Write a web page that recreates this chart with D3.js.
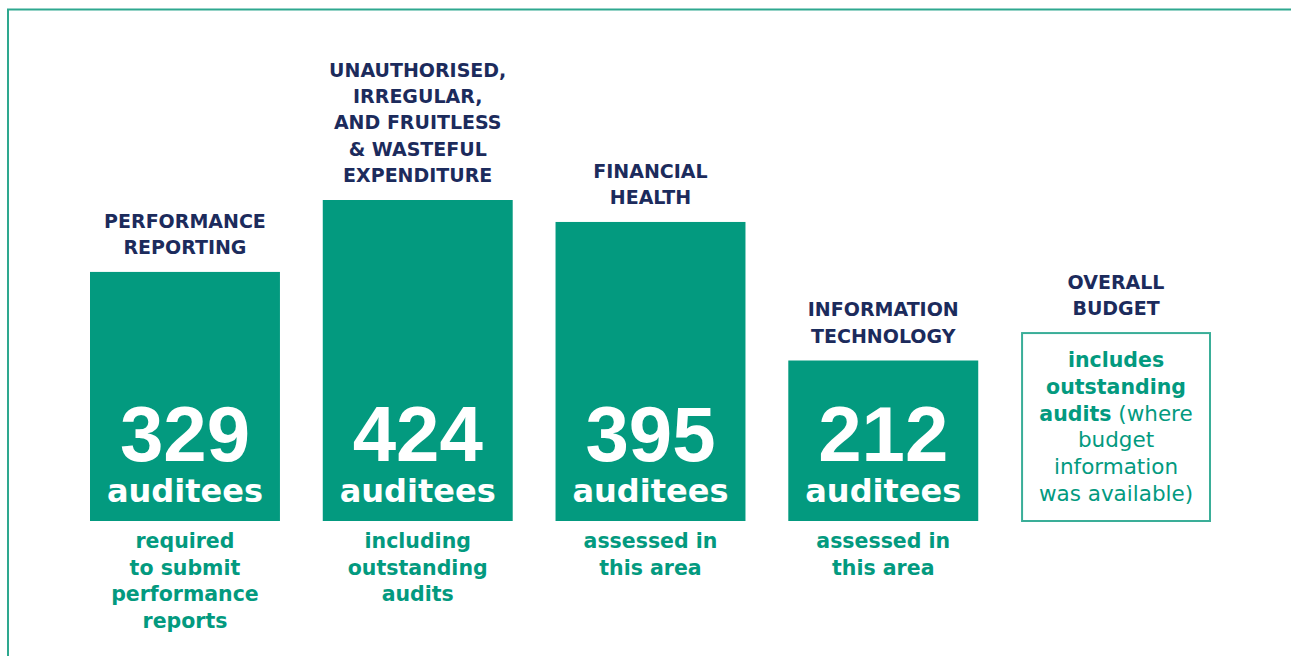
<!DOCTYPE html>
<html>
<head>
<meta charset="utf-8">
<script src="https://cdn.jsdelivr.net/npm/d3@7"></script>
<style>
  body { margin: 0; background: #fff; }
  text { font-family: "DejaVu Sans", sans-serif; }
  text.num { font-family: "Liberation Sans", Arial, sans-serif; }
</style>
</head>
<body>
<svg id="chart" width="1291" height="656"></svg>
<script>
// categories and what each one counts
const categories = ['performance', 'uifw', 'financial', 'it', 'budget']
const values = [329, 424, 395, 212, null]
const titles = [
    ['PERFORMANCE', 'REPORTING'],
    ['UNAUTHORISED,', 'IRREGULAR,', 'AND FRUITLESS', '& WASTEFUL', 'EXPENDITURE'],
    ['FINANCIAL', 'HEALTH'],
    ['INFORMATION', 'TECHNOLOGY'],
    ['OVERALL', 'BUDGET']
]
const notes = [
    ['required', 'to submit', 'performance', 'reports'],
    ['including', 'outstanding', 'audits'],
    ['assessed in', 'this area'],
    ['assessed in', 'this area'],
    []
]
// text inside the budget box: [words, bold?]
const budgetNote = [
    [['includes', 1]],
    [['outstanding', 1]],
    [['audits', 1], [' (where', 0]],
    [['budget', 0]],
    [['information', 0]],
    [['was available)', 0]]
]

const green = '#039a7f'
const navy = '#1c2b5c'
const base = 521

const svg = d3.select('#chart')

// frame
svg.append('path')
    .attr('d', 'M8,700 L8,9.5 L1300,9.5')
    .attr('fill', 'none')
    .attr('stroke', '#2ea88f')
    .attr('stroke-width', 2)

const x = d3.scaleBand()
    .domain(categories)
    .range([90, 1211])
    .paddingInner(0.184)
    .paddingOuter(0)

const y = d3.scaleLinear()
    .domain([0, 424])
    .range([base, 200])

const bw = x.bandwidth()
const cols = svg.selectAll('g.col')
    .data(categories.map((c, i) => ({ c, v: values[i], title: titles[i], note: notes[i] })))
    .enter()
    .append('g')
    .classed('col', true)
    .attr('transform', d => `translate(${x(d.c)},0)`)

const topOf = d => d.v == null ? base - bw + 2 : y(d.v)

// bars
cols.filter(d => d.v != null)
    .append('rect')
    .attr('x', 0)
    .attr('y', d => y(d.v))
    .attr('width', bw)
    .attr('height', d => base - y(d.v))
    .attr('fill', green)

// outlined budget box
cols.filter(d => d.v == null)
    .append('rect')
    .attr('x', 1)
    .attr('y', d => topOf(d))
    .attr('width', bw - 2)
    .attr('height', d => base - topOf(d))
    .attr('fill', 'none')
    .attr('stroke', '#3aae98')
    .attr('stroke-width', 2)

// titles above, notes below
cols.each(function (d) {
    const g = d3.select(this)
    const n = d.title.length
    d.title.forEach((t, i) => {
        g.append('text')
            .attr('x', bw / 2)
            .attr('y', topOf(d) - 18 - (n - 1 - i) * 26.3)
            .attr('text-anchor', 'middle')
            .attr('font-size', 19)
            .attr('font-weight', 'bold')
            .attr('fill', navy)
            .text(t)
    })
    d.note.forEach((t, i) => {
        g.append('text')
            .attr('x', bw / 2)
            .attr('y', base + 27 + i * 26.7)
            .attr('text-anchor', 'middle')
            .attr('font-size', 20.5)
            .attr('font-weight', 'bold')
            .attr('fill', green)
            .text(t)
    })
})

// values inside bars
const bars = cols.filter(d => d.v != null)
bars.append('text')
    .classed('num', true)
    .attr('x', bw / 2)
    .attr('y', base - 60)
    .attr('text-anchor', 'middle')
    .attr('font-size', 78)
    .attr('font-weight', 'bold')
    .attr('fill', '#fff')
    .text(d => d.v)
bars.append('text')
    .attr('x', bw / 2)
    .attr('y', base - 19)
    .attr('text-anchor', 'middle')
    .attr('font-size', 32)
    .attr('font-weight', 'bold')
    .attr('fill', '#fff')
    .text('auditees')

// budget box text
const bg = cols.filter(d => d.v == null)
budgetNote.forEach((line, i) => {
    const t = bg.append('text')
        .attr('x', bw / 2)
        .attr('y', d => topOf(d) + 34 + i * 26.8)
        .attr('text-anchor', 'middle')
        .attr('fill', green)
    line.forEach(([w, b]) => {
        t.append('tspan')
            .attr('font-weight', b ? 'bold' : 'normal')
            .attr('font-size', b ? 20.5 : 21.5)
            .attr('xml:space', 'preserve')
            .text(w)
    })
})
</script>
</body>
</html>
